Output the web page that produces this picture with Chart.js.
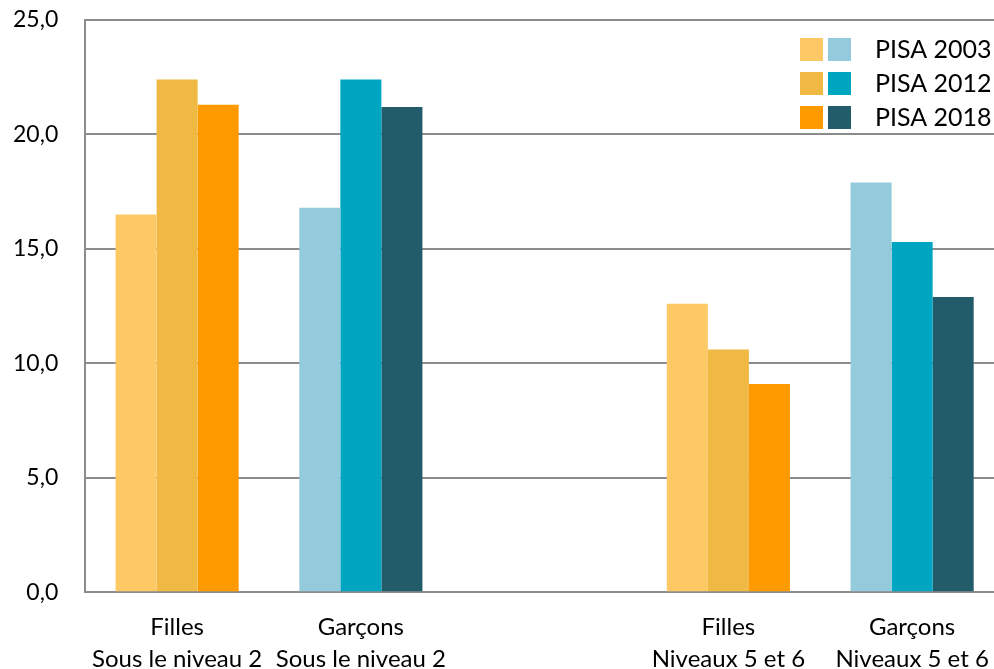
<!DOCTYPE html>
<html lang="fr">
<head>
<meta charset="utf-8">
<script src="https://cdn.jsdelivr.net/npm/chart.js@4.4.0/dist/chart.umd.min.js"></script>
<style>
  html, body { margin: 0; padding: 0; background: #fff; overflow: hidden; }
  #wrap { width: 1010px; height: 694px; position: relative; }
</style>
</head>
<body>
<div id="wrap"><canvas id="c" width="1010" height="694"></canvas></div>
<script>
// Categories (two-line labels); the blank slot separates the two groups of levels
const categories = [
  ["Filles", "Sous le niveau 2"],
  ["Garçons", "Sous le niveau 2"],
  "",
  ["Filles", "Niveaux 5 et 6"],
  ["Garçons", "Niveaux 5 et 6"]
];
const seriesNames = ["PISA 2003", "PISA 2012", "PISA 2018"];
const pisa2003 = [16.5, 16.8, null, 12.6, 17.9];
const pisa2012 = [22.4, 22.4, null, 10.6, 15.3];
const pisa2018 = [21.3, 21.2, null, 9.1, 12.9];
const yTicks = [0, 5, 10, 15, 20, 25];

// Girls use warm tones, boys cool tones, one shade per survey year
const girlColors = ["#FDC965", "#F0B944", "#FF9A00"];
const boyColors  = ["#94CBDC", "#00A5C2", "#225B6A"];
const isGirl = [true, false, false, true, false];

function colorsFor(i) {
  return isGirl.map(g => g ? girlColors[i] : boyColors[i]);
}

const FONT = "Lato, 'Open Sans', sans-serif";

// Two-swatch legend (girls / boys) drawn in the upper right corner
const pairLegend = {
  id: "pairLegend",
  afterDraw(chart) {
    const ctx = chart.ctx;
    ctx.save();
    ctx.font = "25px " + FONT;
    ctx.textBaseline = "middle";
    ctx.textAlign = "left";
    seriesNames.forEach((name, i) => {
      const y = 38 + i * 34;
      ctx.fillStyle = girlColors[i];
      ctx.fillRect(800, y, 23, 23);
      ctx.fillStyle = boyColors[i];
      ctx.fillRect(828, y, 23, 23);
      ctx.fillStyle = "#000";
      ctx.fillText(name, 875, y + 12);
    });
    ctx.restore();
  }
};

new Chart(document.getElementById("c"), {
  type: "bar",
  data: {
    labels: categories,
    datasets: [
      { label: seriesNames[0], data: pisa2003, backgroundColor: colorsFor(0) },
      { label: seriesNames[1], data: pisa2012, backgroundColor: colorsFor(1) },
      { label: seriesNames[2], data: pisa2018, backgroundColor: colorsFor(2) }
    ]
  },
  options: {
    responsive: false,
    animation: false,
    layout: { padding: { top: 20, right: 6, left: -14, bottom: 0 } },
    datasets: { bar: { barPercentage: 1.0, categoryPercentage: 0.67, borderWidth: 0 } },
    plugins: {
      legend: { display: false },
      tooltip: { enabled: false }
    },
    scales: {
      x: {
        afterFit(s) { s.paddingLeft = 0; s.paddingRight = 0; },
        grid: { display: false, drawTicks: false },
        border: { display: true, color: "#8c8c8c", width: 2 },
        ticks: {
          color: "#000",
          font: { family: FONT, size: 24, lineHeight: 1.33 },
          padding: 19,
          maxRotation: 0,
          autoSkip: false
        }
      },
      y: {
        min: 0,
        max: 25,
        afterFit(s) { s.paddingTop = 0; s.paddingBottom = 0; },
        afterBuildTicks(axis) { axis.ticks = yTicks.map(v => ({ value: v })); },
        grid: { color: "#8c8c8c", lineWidth: 2, drawTicks: false },
        border: { display: true, color: "#8c8c8c", width: 2 },
        ticks: {
          color: "#000",
          font: { family: FONT, size: 23 },
          padding: 27,
          callback: v => v.toFixed(1).replace(".", ",")
        }
      }
    }
  },
  plugins: [pairLegend]
});
</script>
</body>
</html>
